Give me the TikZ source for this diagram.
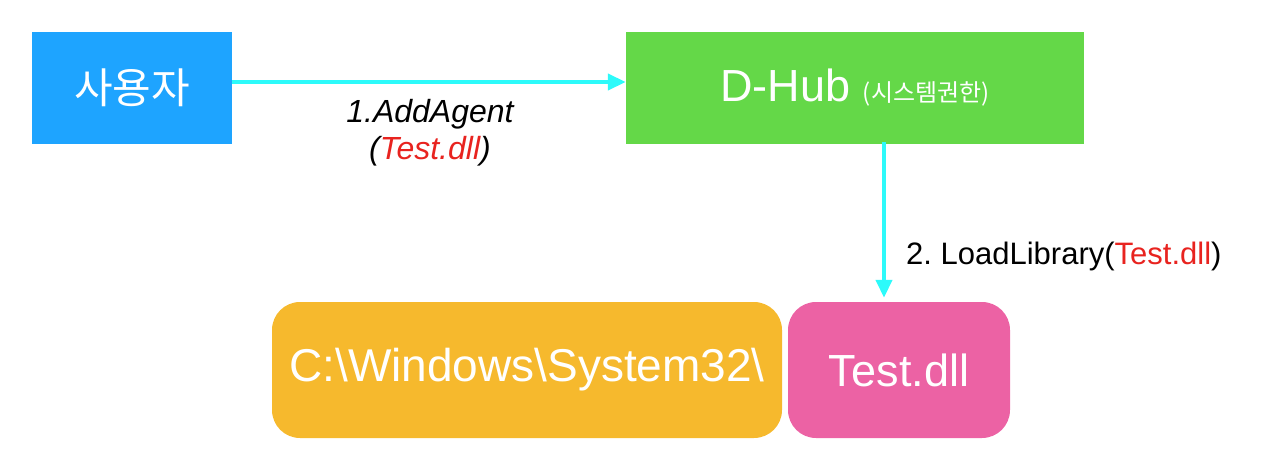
\documentclass[tikz,border=0pt]{standalone}
\usepackage{fontspec}
\usepackage{xcolor}
\usepackage{tikz}
\usetikzlibrary{arrows.meta}
\setmainfont{Liberation Sans}
\newfontfamily\krfont{Noto Sans CJK KR}

\definecolor{userblue}{RGB}{30,164,255}
\definecolor{hubgreen}{RGB}{100,216,72}
\definecolor{pathorange}{RGB}{246,185,45}
\definecolor{dllpink}{RGB}{236,98,164}
\definecolor{flowcyan}{RGB}{45,250,250}
\definecolor{dllred}{RGB}{232,35,31}

\tikzset{
  flatbox/.style={draw=none, inner sep=0pt, text=white},
  roundbox/.style={flatbox, rounded corners=28pt},
  flowarrow/.style={draw=flowcyan, line width=4pt, -{Triangle[length=18pt,width=16pt]}},
}

\begin{document}
\frenchspacing
\begin{tikzpicture}[x=1pt,y=1pt,yscale=-1]
	\useasboundingbox (0,0) rectangle (1264,466);
	
	%Boxes
	\node [flatbox, fill=userblue, minimum width=200pt, minimum height=112pt] (user) at (132,88) {\fontsize{42}{50}\selectfont\krfont 사용자};
	\node [flatbox, fill=hubgreen, minimum width=458pt, minimum height=112pt] (hub) at (855,88) {\fontsize{45}{54}\selectfont D-Hub {\fontsize{24}{28}\selectfont\krfont (시스템권한)}};
	\node [roundbox, fill=pathorange, minimum width=510pt, minimum height=136pt] (sysdir) at (527,370) {\fontsize{46}{54}\selectfont C:\textbackslash Windows\textbackslash System32\textbackslash};
	\node [roundbox, fill=dllpink, minimum width=222pt, minimum height=136pt] (dll) at (899,370) {\fontsize{45}{54}\selectfont Test.dll};
	
	%Arrows
	\draw [flowarrow] ([yshift=-6pt]user.east) -- ([yshift=-6pt]hub.west);
	\draw [flowarrow, shorten >=4pt] ([xshift=29pt,yshift=-2pt]hub.south) -- ([xshift=-15pt]dll.north);
	
	% Text Node
	\node [align=center, font=\fontsize{32}{37}\selectfont\itshape] (addlabel) at (430,133) {1.AddAgent\\(\textcolor{dllred}{Test.dll})};
	% Text Node
	\node [anchor=west, inner sep=0pt, font=\fontsize{31}{36}\selectfont] (loadlabel) at (906,256) {2. LoadLibrary(\textcolor{dllred}{Test.dll})};
	
\end{tikzpicture}
\end{document}
